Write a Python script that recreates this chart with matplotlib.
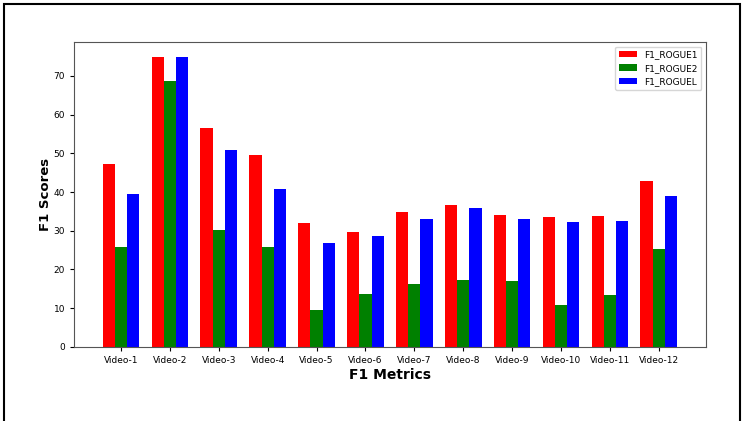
import numpy as np
import matplotlib.pyplot as plt
from matplotlib.patches import Rectangle

videos = [f"Video-{i}" for i in range(1, 13)]
rogue1 = [47.2, 75.0, 56.5, 49.5, 32.1, 29.8, 34.8, 36.7, 34.2, 33.6, 33.8, 42.8]
rogue2 = [25.9, 68.8, 30.3, 25.9, 9.5, 13.6, 16.3, 17.3, 17.1, 10.7, 13.3, 25.3]
rogueL = [39.6, 75.0, 50.8, 40.9, 26.8, 28.6, 33.0, 35.9, 33.0, 32.2, 32.5, 39.1]


def main():
    fig = plt.figure(figsize=(7.43, 4.21), dpi=100)
    ax = fig.add_axes([0.0996, 0.176, 0.8504, 0.724])

    x = np.arange(len(videos))
    width = 0.25
    ax.bar(x - width, rogue1, width, color="red", label="F1_ROGUE1")
    ax.bar(x, rogue2, width, color="green", label="F1_ROGUE2")
    ax.bar(x + width, rogueL, width, color="blue", label="F1_ROGUEL")

    ax.set_xticks(x)
    ax.set_xticklabels(videos)
    ax.tick_params(labelsize=6.5, length=3)
    ax.set_xlabel("F1 Metrics", fontsize=10, fontweight="bold", labelpad=2)
    ax.set_ylabel("F1 Scores", fontsize=9.5, fontweight="bold", labelpad=1)
    for sp in ax.spines.values():
        sp.set_color("#555555")
    ax.legend(loc="upper right", fontsize=6.5)

    # black frame around the figure
    w, h = 743, 421
    fig.patches.append(Rectangle((4 / w, -0.05), 736 / w, 1 - 4 / h + 0.05,
                                 transform=fig.transFigure, fill=False,
                                 edgecolor="black", linewidth=1.5))

    fig.savefig("out.png", dpi=100)


if __name__ == "__main__":
    main()
